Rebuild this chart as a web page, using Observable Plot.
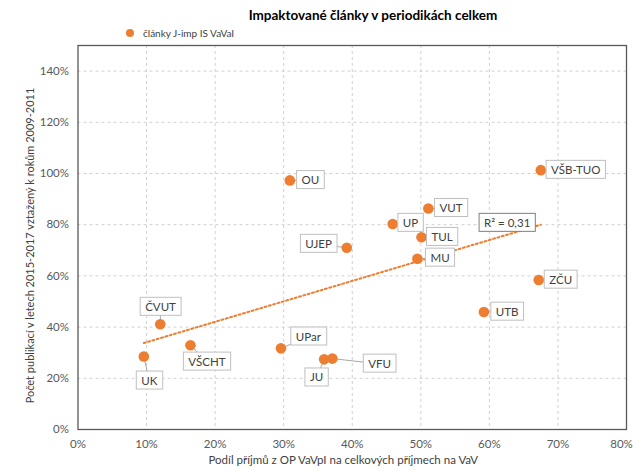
<!DOCTYPE html>
<html>
<head>
<meta charset="utf-8">
<script src="https://cdn.jsdelivr.net/npm/d3@7"></script>
<script src="https://cdn.jsdelivr.net/npm/@observablehq/plot@0.6"></script>
<style>
  html, body { margin: 0; padding: 0; background: #fff; }
  body { width: 633px; height: 471px; position: relative; overflow: hidden; font-family: Lato, "Open Sans", sans-serif; }
  #title { position: absolute; left: 0; top: 5px; width: 746px; text-align: center; font-size: 13.5px; font-weight: bold; color: #000; line-height: 20px; }
  #legend { position: absolute; left: 126px; top: 25px; font-size: 10px; color: #404040; line-height: 16px; display: flex; align-items: center; }
  #legend .dot { width: 8px; height: 8px; border-radius: 50%; background: #ED7D31; margin-right: 9px; }
  #chart { position: absolute; left: 0; top: 42px; }
</style>
</head>
<body>
<div id="title">Impaktované články v periodikách celkem</div>
<div id="legend"><span class="dot"></span><span>články J-imp IS VaVaI</span></div>
<div id="chart"></div>
<script>
// ---- data ----
const names = ["ČVUT","UK","VŠCHT","UPar","JU","VFU","OU","UJEP","UP","VUT","TUL","MU","UTB","ZČU","VŠB-TUO"];
const shareOP = [0.120,0.096,0.164,0.296,0.359,0.371,0.309,0.392,0.459,0.511,0.501,0.495,0.592,0.672,0.675];
const pubRatio = [0.411,0.285,0.329,0.317,0.274,0.277,0.973,0.710,0.803,0.863,0.751,0.667,0.459,0.584,1.013];
const xTicks = [0,0.1,0.2,0.3,0.4,0.5,0.6,0.7,0.8];
const yTicks = [0,0.2,0.4,0.6,0.8,1.0,1.2,1.4];
const seriesName = "články J-imp IS VaVaI";
const xTitle = "Podíl příjmů z OP VaVpI na celkových příjmech na VaV";
const yTitle = "Počet publikací v letech 2015-2017 vztažený k rokům 2009-2011";

// ---- annotation anchors (data units) ----
const labelX = [0.1204,0.104,0.188,0.336,0.348,0.440,0.339,0.351,0.485,0.544,0.531,0.528,0.626,0.704,0.726];
const labelY = [0.478,0.190,0.264,0.362,0.202,0.256,0.973,0.724,0.806,0.864,0.751,0.670,0.459,0.584,1.013];
const r2Anchor = [0.626, 0.806];

const data = names.map((n, i) => ({name: n, x: shareOP[i], y: pubRatio[i], lx: labelX[i], ly: labelY[i]}));

// R² of the linear fit
const mx = d3.mean(shareOP), my = d3.mean(pubRatio);
let sxy = 0, sxx = 0, syy = 0;
shareOP.forEach((x, i) => { const dx = x - mx, dy = pubRatio[i] - my; sxy += dx*dy; sxx += dx*dx; syy += dy*dy; });
const r2 = (sxy*sxy)/(sxx*syy);
const r2Text = "R² = " + d3.format(".2f")(r2).replace(".", ",");

const orange = "#ED7D31";
const pct = d3.format(".0%");

const svg = Plot.plot({
  width: 633,
  height: 429,
  marginTop: 3,
  marginLeft: 77.5,
  marginRight: 7,
  marginBottom: 42,
  style: {fontFamily: "Lato, 'Open Sans', sans-serif", fontSize: "11px", color: "#595959", background: "#fff"},
  x: {domain: [0, 0.8]},
  y: {domain: [0, 1.5]},
  marks: [
    Plot.gridX(xTicks.filter(t => t > 0 && t < 0.8), {stroke: "#d0d0d0", strokeOpacity: 1, strokeDasharray: "3,3"}),
    Plot.gridY(yTicks.filter(t => t > 0), {stroke: "#d0d0d0", strokeOpacity: 1, strokeDasharray: "3,3"}),
    Plot.axisX({ticks: xTicks.filter(t => t < 0.8), tickFormat: pct, tickSize: 0, tickPadding: 10, label: null, fill: "#595959", fontSize: 11.5}),
    Plot.axisX({ticks: xTicks.filter(t => t >= 0.8), tickFormat: pct, tickSize: 0, tickPadding: 10, label: null, fill: "#595959", fontSize: 11.5, dx: -5}),
    Plot.axisY({ticks: yTicks, tickFormat: pct, tickSize: 0, tickPadding: 9, label: null, fill: "#595959", fontSize: 11.5}),
    Plot.frame({stroke: "#595959", strokeWidth: 1.3}),
    Plot.linearRegressionY(data, {x: "x", y: "y", ci: 0, stroke: orange, strokeWidth: 2, strokeDasharray: "2,2.5"}),
    Plot.link(data, {x1: "x", y1: "y", x2: "lx", y2: "ly", stroke: "#a6a6a6", strokeWidth: 1}),
    Plot.dot(data, {x: "x", y: "y", r: 5.3, fill: orange}),
    Plot.text(data, {x: "lx", y: "ly", text: "name", fill: "#404040", fontSize: 11.5}),
    Plot.text([r2Text], {x: () => r2Anchor[0], y: () => r2Anchor[1], text: d => d, fill: "#404040", fontSize: 11.5}),
    Plot.text([yTitle], {frameAnchor: "left", textAnchor: "middle", rotate: -90, dx: -48, dy: 8, text: d => d, fill: "#404040", fontSize: 11}),
    Plot.text([xTitle], {frameAnchor: "bottom", textAnchor: "middle", dy: 34, dx: -9, text: d => d, fill: "#404040", fontSize: 11.5})
  ]
});
document.getElementById("chart").appendChild(svg);

const nameSet = new Set(names);
svg.querySelectorAll("text").forEach(t => {
  const s = t.textContent;
  let stroke = null;
  if (nameSet.has(s)) stroke = "#bfbfbf";
  else if (s === r2Text) stroke = "#7f7f7f";
  if (!stroke) return;
  const bb = t.getBBox();
  const r = document.createElementNS("http://www.w3.org/2000/svg", "rect");
  r.setAttribute("x", bb.x - 5);
  r.setAttribute("y", bb.y - 2.5);
  r.setAttribute("width", bb.width + 10);
  r.setAttribute("height", bb.height + 5);
  const tr = t.getAttribute("transform");
  if (tr) r.setAttribute("transform", tr);
  r.setAttribute("fill", "#fff");
  r.setAttribute("stroke", stroke);
  r.setAttribute("stroke-width", 1);
  t.parentNode.insertBefore(r, t);
});
</script>
</body>
</html>
